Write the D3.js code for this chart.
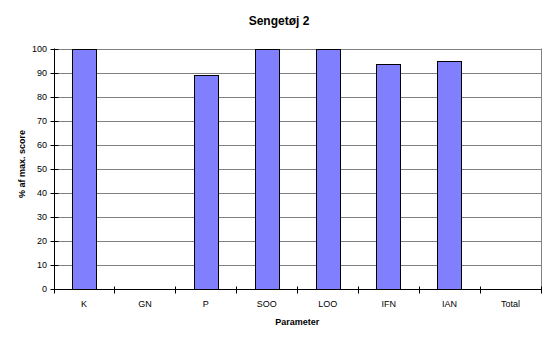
<!DOCTYPE html>
<html>
<head>
<meta charset="utf-8">
<script src="https://cdn.jsdelivr.net/npm/d3@7/dist/d3.min.js"></script>
<style>
  html, body { margin: 0; padding: 0; background: #fff; }
  svg { display: block; font-family: "Liberation Sans", Arial, sans-serif; }
</style>
</head>
<body>
<svg id="chart" width="558" height="350"></svg>
<script>
// Scores as % of the maximum; null = no bar for that parameter
const categories = ["K", "GN", "P", "SOO", "LOO", "IFN", "IAN", "Total"];
const scores = [100, null, 89, 100, 100, 93.6, 95, null];
const yTicks = [0, 10, 20, 30, 40, 50, 60, 70, 80, 90, 100];
const title = "Sengetøj 2";
const xTitle = "Parameter";
const yTitle = "% af max. score";

const svg = d3.select("#chart");
const m = { left: 53.5, right: 541, top: 48.5, bottom: 288.5 };

const x = d3.scaleBand().domain(categories).range([m.left, m.right]).paddingInner(0).paddingOuter(0);
const y = d3.scaleLinear().domain([0, 100]).range([m.bottom, m.top]);

// gridlines
svg.append("g").selectAll("line").data(yTicks.filter(d => d > 0)).join("line")
  .attr("x1", m.left).attr("x2", m.right)
  .attr("y1", d => Math.round(y(d)) + 0.5).attr("y2", d => Math.round(y(d)) + 0.5)
  .attr("stroke", "#808080").attr("stroke-width", 1);

// right border of plot area
svg.append("line")
  .attr("x1", m.right + 0.5).attr("x2", m.right + 0.5)
  .attr("y1", m.top).attr("y2", m.bottom)
  .attr("stroke", "#808080");

// bars
const bw = x.bandwidth() * 0.4;
const barData = categories.map((c, i) => ({ c, v: scores[i] })).filter(d => d.v != null);
svg.append("g").selectAll("rect").data(barData).join("rect")
  .attr("x", d => Math.round(x(d.c) + (x.bandwidth() - bw) / 2) + 0.5)
  .attr("y", d => Math.round(y(d.v)) + 0.5)
  .attr("width", Math.round(bw))
  .attr("height", d => Math.round(y(0)) - Math.round(y(d.v)))
  .attr("fill", "#8080ff")
  .attr("stroke", "#000").attr("stroke-width", 1);

// x axis
const xAxisY = Math.round(y(0)) + 0.5;
svg.append("line").attr("x1", m.left).attr("x2", m.right + 1)
  .attr("y1", xAxisY).attr("y2", xAxisY).attr("stroke", "#000");
const bounds = categories.map(c => x(c)).concat([m.right]);
svg.append("g").selectAll("line").data(bounds).join("line")
  .attr("x1", d => Math.round(d) + 0.5).attr("x2", d => Math.round(d) + 0.5)
  .attr("y1", xAxisY - 3).attr("y2", xAxisY + 4)
  .attr("stroke", "#000");
svg.append("g").selectAll("text").data(categories).join("text")
  .attr("x", d => x(d) + x.bandwidth() / 2)
  .attr("y", 306.5)
  .attr("text-anchor", "middle")
  .attr("font-size", "9px")
  .attr("fill", "#000")
  .text(d => d);

// y axis
const yAxisX = Math.round(m.left) + 0.5;
svg.append("line").attr("x1", yAxisX).attr("x2", yAxisX)
  .attr("y1", m.top).attr("y2", xAxisY).attr("stroke", "#000");
svg.append("g").selectAll("line").data(yTicks).join("line")
  .attr("x1", yAxisX - 4).attr("x2", yAxisX + 4)
  .attr("y1", d => Math.round(y(d)) + 0.5).attr("y2", d => Math.round(y(d)) + 0.5)
  .attr("stroke", "#000");
svg.append("g").selectAll("text").data(yTicks).join("text")
  .attr("x", 47)
  .attr("y", d => y(d) + 3.3)
  .attr("text-anchor", "end")
  .attr("font-size", "9px")
  .attr("fill", "#000")
  .text(d => d);

// titles
svg.append("text").attr("x", 279).attr("y", 25)
  .attr("text-anchor", "middle").attr("font-size", "12px").attr("font-weight", "bold")
  .text(title);
svg.append("text").attr("x", (m.left + m.right) / 2).attr("y", 325)
  .attr("text-anchor", "middle").attr("font-size", "9px").attr("font-weight", "bold")
  .text(xTitle);
svg.append("text")
  .attr("transform", "translate(25,164) rotate(-90)")
  .attr("text-anchor", "middle").attr("font-size", "9px").attr("font-weight", "bold")
  .text(yTitle);
</script>
</body>
</html>
